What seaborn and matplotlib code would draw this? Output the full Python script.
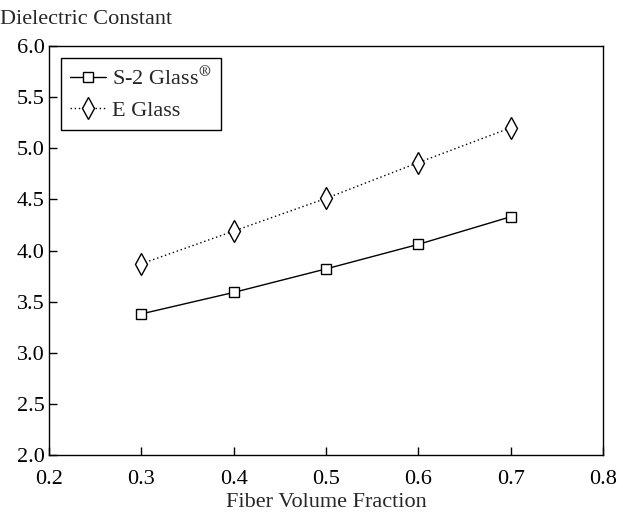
import numpy as np
import pandas as pd
import matplotlib
matplotlib.use('Agg')
import matplotlib.pyplot as plt
import seaborn as sns

# === DATOS ===
fiber_fraction = [0.3, 0.4, 0.5, 0.6, 0.7]
s2_glass = [3.38, 3.59, 3.82, 4.06, 4.33]
e_glass = [3.87, 4.19, 4.51, 4.86, 5.20]
series_names = ['S-2 Glass$^{®}$', 'E Glass']
x_ticks = [0.2, 0.3, 0.4, 0.5, 0.6, 0.7, 0.8]
y_ticks = [2.0, 2.5, 3.0, 3.5, 4.0, 4.5, 5.0, 5.5, 6.0]

df_s2 = pd.DataFrame({'fraction': fiber_fraction, 'value': s2_glass})
df_e = pd.DataFrame({'fraction': fiber_fraction, 'value': e_glass})

sns.set_theme(style='ticks')
plt.rcParams['font.family'] = ['Liberation Serif', 'DejaVu Serif']
plt.rcParams['mathtext.fontset'] = 'stix'

fig = plt.figure(figsize=(6.23, 5.19), dpi=100)
ax = fig.add_axes([0.0787, 0.1233, 0.889, 0.788])

# S-2 Glass: linea continua con cuadrados
sns.lineplot(data=df_s2, x='fraction', y='value', color='black', linewidth=1.0,
             marker='s', markersize=7, markerfacecolor='white',
             markeredgecolor='black', markeredgewidth=1.0,
             label=series_names[0], ax=ax)
# E Glass: linea punteada con rombos
sns.lineplot(data=df_e, x='fraction', y='value', color='black', linewidth=1.0,
             linestyle=(0, (1, 2)), marker='d', markersize=11, markerfacecolor='white',
             markeredgecolor='black', markeredgewidth=1.0,
             label=series_names[1], ax=ax)

ax.set_xlim(0.2, 0.8)
ax.set_ylim(2.0, 6.0)
ax.set_xticks(x_ticks)
ax.set_yticks(y_ticks)
ax.set_xticklabels([f'{t:.1f}' for t in x_ticks])
ax.set_yticklabels([f'{t:.1f}' for t in y_ticks])
ax.tick_params(direction='in', length=6, width=1, labelsize=16, colors='black')
ax.tick_params(axis='y', pad=3)
ax.tick_params(axis='x', pad=11)
for s in ax.spines.values():
    s.set_color('black')
    s.set_linewidth(1)

ax.set_xlabel('Fiber Volume Fraction', fontsize=16, labelpad=3)
ax.set_ylabel('')
fig.text(0.0, 0.963, 'Dielectric Constant', fontsize=16, ha='left', va='center')

leg = ax.legend(loc='upper left', fontsize=16, frameon=True, fancybox=False,
                edgecolor='black', framealpha=1, handlelength=1.6,
                borderaxespad=0.55, borderpad=0.4, handletextpad=0.3,
                labelspacing=0.45)
leg.get_frame().set_linewidth(1)

fig.savefig('out.png', dpi=100)
